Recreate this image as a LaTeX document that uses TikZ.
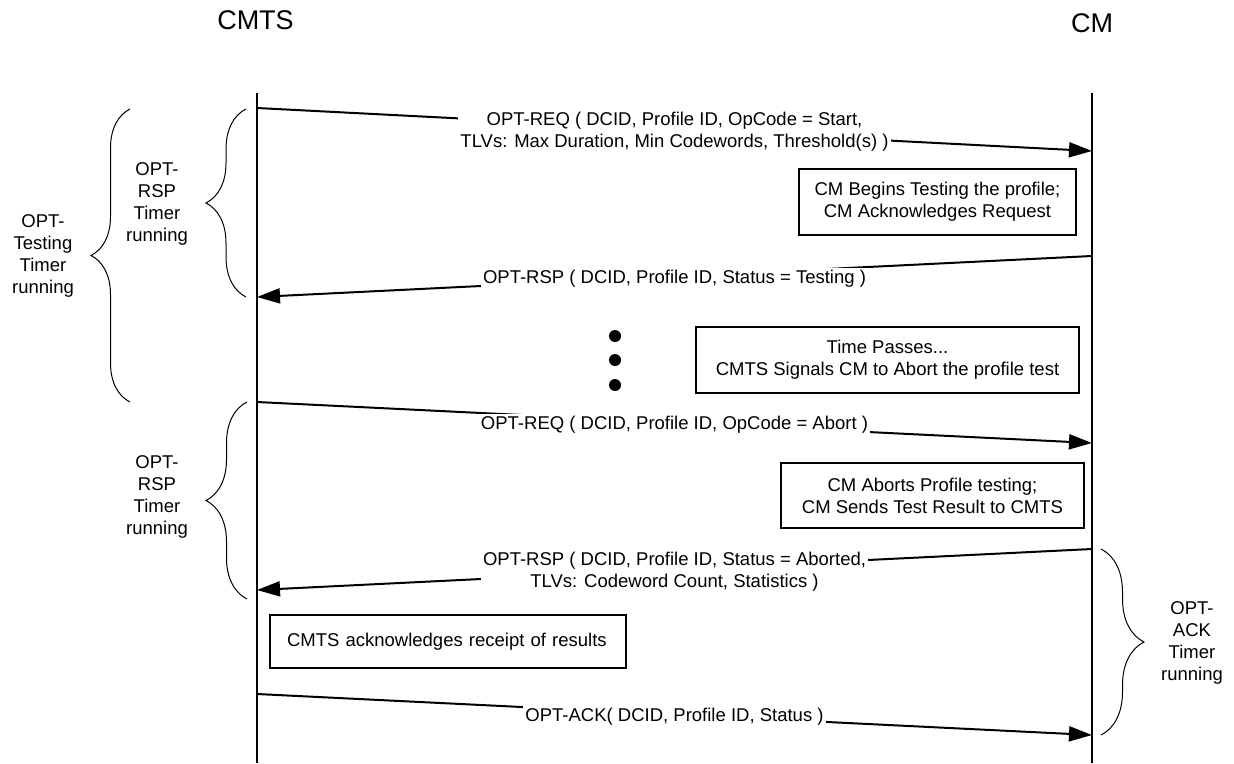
\documentclass[tikz,border=0pt]{standalone}
\usepackage{fontspec}
\setmainfont{Liberation Sans}
\usetikzlibrary{arrows.meta,decorations.pathreplacing}
\begin{document}
\begin{tikzpicture}[x=1pt,y=-1pt,
  msg/.style={line width=2pt,-{Triangle[length=23pt,width=15pt]}},
  lbl/.style={fill=white,inner xsep=2pt,inner ysep=2pt,align=center,yshift=-2pt,font=\fontsize{18.5}{22}\selectfont},
  notebox/.style={draw,line width=1.5pt,align=center,font=\fontsize{18.5}{22}\selectfont,inner sep=0pt},
  life/.style={line width=1.5pt},
  brc/.style={decorate,decoration={brace,amplitude=#1},line width=1pt},
  sidelbl/.style={align=center,font=\fontsize{18.5}{22}\selectfont},
  hdr/.style={font=\fontsize{27}{32}\selectfont}]
\useasboundingbox (0,0) rectangle (1234,763);

% headers
\node[hdr] (hcmts) at (255.5,20) {CMTS};
\node[hdr] (hcm) at (1092,23) {CM};

% lifelines
\coordinate (cmtsTop) at (257,93);
\coordinate (cmtsBot) at (257,763);
\coordinate (cmTop) at (1092,93);
\coordinate (cmBot) at (1092,763);
\draw[life] (cmtsTop) -- (cmtsBot);
\draw[life] (cmTop) -- (cmBot);

% message end points
\coordinate (a1) at (257,108);  \coordinate (b1) at (1092,151);
\coordinate (a2) at (1092,256); \coordinate (b2) at (257,297);
\coordinate (a3) at (257,402);  \coordinate (b3) at (1092,443);
\coordinate (a4) at (1092,549); \coordinate (b4) at (257,590);
\coordinate (a5) at (257,694);  \coordinate (b5) at (1092,735);

\draw[msg] (a1) -- node[lbl] (m1) {OPT-REQ ( DCID, Profile ID, OpCode = Start,\\TLVs: Max Duration, Min Codewords, Threshold(s) )} (b1);
\draw[msg] (a2) -- node[lbl] (m2) {OPT-RSP ( DCID, Profile ID, Status = Testing )} (b2);
\draw[msg] (a3) -- node[lbl] (m3) {OPT-REQ ( DCID, Profile ID, OpCode = Abort )} (b3);
\draw[msg] (a4) -- node[lbl] (m4) {OPT-RSP ( DCID, Profile ID, Status = Aborted,\\TLVs: Codeword Count, Statistics )} (b4);
\draw[msg] (a5) -- node[lbl] (m5) {OPT-ACK( DCID, Profile ID, Status )} (b5);

% boxes
\node[notebox,minimum width=277pt,minimum height=66pt] (bxA) at (937.5,202) {CM Begins Testing the profile;\\CM Acknowledges Request};
\node[notebox,minimum width=383pt,minimum height=66pt] (bxB) at (887.5,360) {Time Passes...\\CMTS Signals CM to Abort the profile test};
\node[notebox,minimum width=303pt,minimum height=65pt] (bxC) at (932.5,495.5) {CM Aborts Profile testing;\\CM Sends Test Result to CMTS};
\node[notebox,minimum width=356pt,minimum height=53pt,align=left,text width=322pt,inner xsep=16pt] (bxD) at (448,641.5) {CMTS acknowledges receipt of results};

% dots
\fill (615,336) circle (6pt);
\fill (615,360) circle (6pt);
\fill (615,385) circle (6pt);

% braces
\coordinate (o1) at (130,402); \coordinate (o2) at (130,109);
\draw[brc=39pt] (o1) -- (o2);
\node[sidelbl] (lo) at (43,256) {OPT-\\Testing\\Timer\\running};

\coordinate (i1) at (246,297); \coordinate (i2) at (246,109);
\draw[brc=40pt] (i1) -- (i2);
\node[sidelbl] (li1) at (157,204) {OPT-\\RSP\\Timer\\running};

\coordinate (j1) at (247,599); \coordinate (j2) at (247,402);
\draw[brc=41pt] (j1) -- (j2);
\node[sidelbl] (li2) at (157,497) {OPT-\\RSP\\Timer\\running};

\coordinate (r1) at (1101,549); \coordinate (r2) at (1101,735);
\draw[brc=43pt] (r1) -- (r2);
\node[sidelbl] (lr) at (1192,643) {OPT-\\ACK\\Timer\\running};
\end{tikzpicture}
\end{document}
